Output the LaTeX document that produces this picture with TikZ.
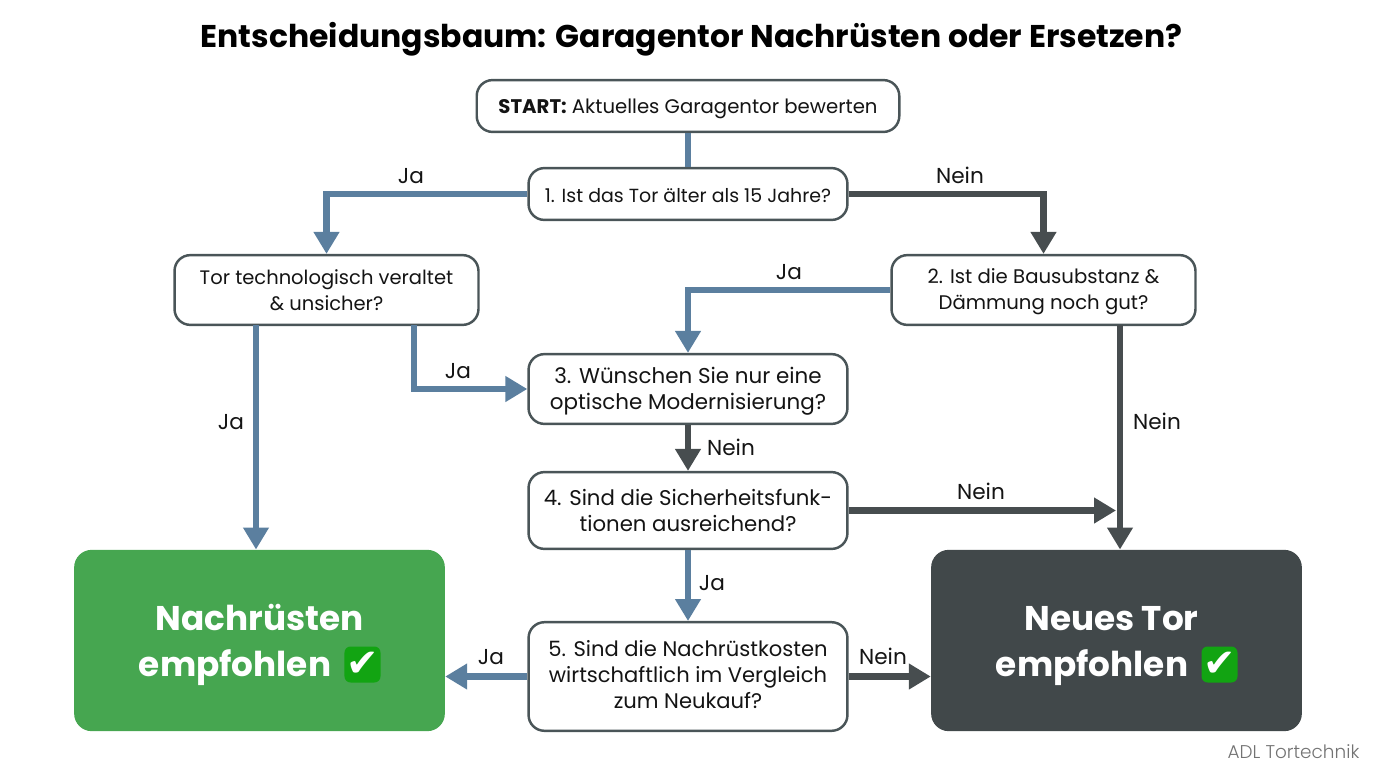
\documentclass[tikz,border=0pt]{standalone}
\usepackage{fontspec}
\setmainfont{Poppins}
\newfontfamily\symfont{DejaVu Sans}
\newfontfamily\lightfont{Poppins}[UprightFont=* Light]
\usetikzlibrary{arrows.meta,positioning,calc}
\definecolor{jablue}{HTML}{5B7F9F}
\definecolor{neindark}{HTML}{474D4F}
\definecolor{boxline}{HTML}{4A5558}
\definecolor{boxgreen}{HTML}{46A650}
\definecolor{boxdark}{HTML}{41484A}
\definecolor{chkgreen}{HTML}{12A412}
\newcommand{\lift}[1]{\rule{0pt}{\dimexpr 0.76em+#1pt\relax}}
\tikzset{
  q/.style={rectangle,draw=boxline,line width=1.4pt,fill=white,rounded corners=9pt,align=center,inner sep=0pt,
    font=\fontsize{#1}{14.7}\selectfont,text=black!92},
  result/.style={rectangle,rounded corners=10pt,align=center,text=white,inner sep=0pt,minimum width=211pt,minimum height=103.2pt,
    font=\fontsize{19.5}{26.4}\selectfont\bfseries},
  chk/.style={rectangle,fill=chkgreen,rounded corners=3.5pt,inner sep=0pt,minimum size=20.5pt,text=white,font=\symfont\fontsize{22}{22}\selectfont},
  ja/.style={draw=jablue,line width=3.8pt,-{Triangle[length=12.5pt,width=14pt]}},
  nein/.style={draw=neindark,line width=3.8pt,-{Triangle[length=12.5pt,width=14pt]}},
  lbl/.style={font=\fontsize{12.3}{14}\selectfont,text=black!92,inner sep=0pt}
}
\begin{document}
\begin{tikzpicture}[x=0.02cm,y=-0.02cm]
    \useasboundingbox (0,0) rectangle (1376,768);
    \node[font=\fontsize{17.9}{22}\selectfont\bfseries] (title) at (691.5,39) {Entscheidungsbaum: Garagentor Nachrüsten oder Ersetzen?};

    % questions
    \node[q=11.2,minimum width=240.5pt,minimum height=29.5pt] (start) at (688,106) {\lift{3.4}\textbf{START:} Aktuelles Garagentor bewerten};
    \node[q=10.8,minimum width=181.5pt,minimum height=29.5pt] (q1) at (688,194) {\lift{1.1}1. Ist das Tor älter als 15 Jahre?};
    \node[q=11.1,minimum width=173pt,minimum height=39.7pt] (tor) at (326.5,290) {\lift{0.6}Tor technologisch veraltet\\\& unsicher?};
    \node[q=11.2,minimum width=173pt,minimum height=39.7pt] (q2) at (1043.5,290) {\lift{2.2}2. Ist die Bausubstanz \&\\Dämmung noch gut?};
    \node[q=12.2,minimum width=181.5pt,minimum height=39.7pt] (q3) at (688,389) {\lift{2.8}3. Wünschen Sie nur eine\\optische Modernisierung?};
    \node[q=12.1,minimum width=181.5pt,minimum height=43.7pt] (q4) at (688,510.5) {4. Sind die Sicherheitsfunk-\\tionen ausreichend?};
    \node[q=12,minimum width=181.5pt,minimum height=61.8pt] (q5) at (688,676.5) {5. Sind die Nachrüstkosten\\wirtschaftlich im Vergleich\\zum Neukauf?\rule[-2.3pt]{0pt}{2.3pt}};

    % results
    \node[result,fill=boxgreen] (rgreen) at (259.5,640.5) {\lift{5.1}Nachrüsten\\empfohlen\kern27.8pt\mbox{}};
    \node[result,fill=boxdark] (rdark) at (1116.5,640.5) {\lift{5.1}Neues Tor\kern5.7pt\mbox{}\\empfohlen\kern27.8pt\mbox{}};
    \node[chk] (chka) at (362.5,664.5) {✔};
    \node[chk] (chkb) at (1219.5,664.5) {✔};

    % free ends
    \coordinate (torl) at (256,325);
    \coordinate (torr) at (414,325);
    \coordinate (q2b) at (1120,325);
    \coordinate (q4e) at (1116,510.5);

    % connectors
    \draw[draw=jablue,line width=3.8pt] (start) -- (q1);
    \draw[ja] (q1.west) -| (tor.north);
    \draw[nein] (q1.east) -| (q2.north);
    \draw[ja] (q2.west) -| (q3.north);
    \draw[ja] (torl) -- (torl |- rgreen.north);
    \draw[ja] (torr) |- (q3.west);
    \draw[nein] (q3) -- (q4);
    \draw[nein] (q4.east) -- (q4e);
    \draw[nein] (q2b) -- (q2b |- rdark.north);
    \draw[ja] (q4) -- (q5);
    \draw[ja] (q5.west) -- (rgreen.east |- q5.west);
    \draw[nein] (q5.east) -- (rdark.west |- q5.east);

    % labels
    \node[lbl] (l1) at (411,176) {Ja};
    \node[lbl] (l2) at (960,175.5) {Nein};
    \node[lbl] (l3) at (789,272) {Ja};
    \node[lbl] (l4) at (231,422) {Ja};
    \node[lbl] (l5) at (458,371) {Ja};
    \node[lbl] (l6) at (1157,421.5) {Nein};
    \node[lbl] (l7) at (731,447) {Nein};
    \node[lbl] (l8) at (981,491.5) {Nein};
    \node[lbl] (l9) at (712,583) {Ja};
    \node[lbl] (l10) at (491,657) {Ja};
    \node[lbl] (l11) at (883,656.5) {Nein};

    \node[font=\lightfont\fontsize{10.5}{12}\selectfont,text=black!55,inner sep=0pt] (mark) at (1293.5,752) {ADL Tortechnik};
\end{tikzpicture}
\end{document}
